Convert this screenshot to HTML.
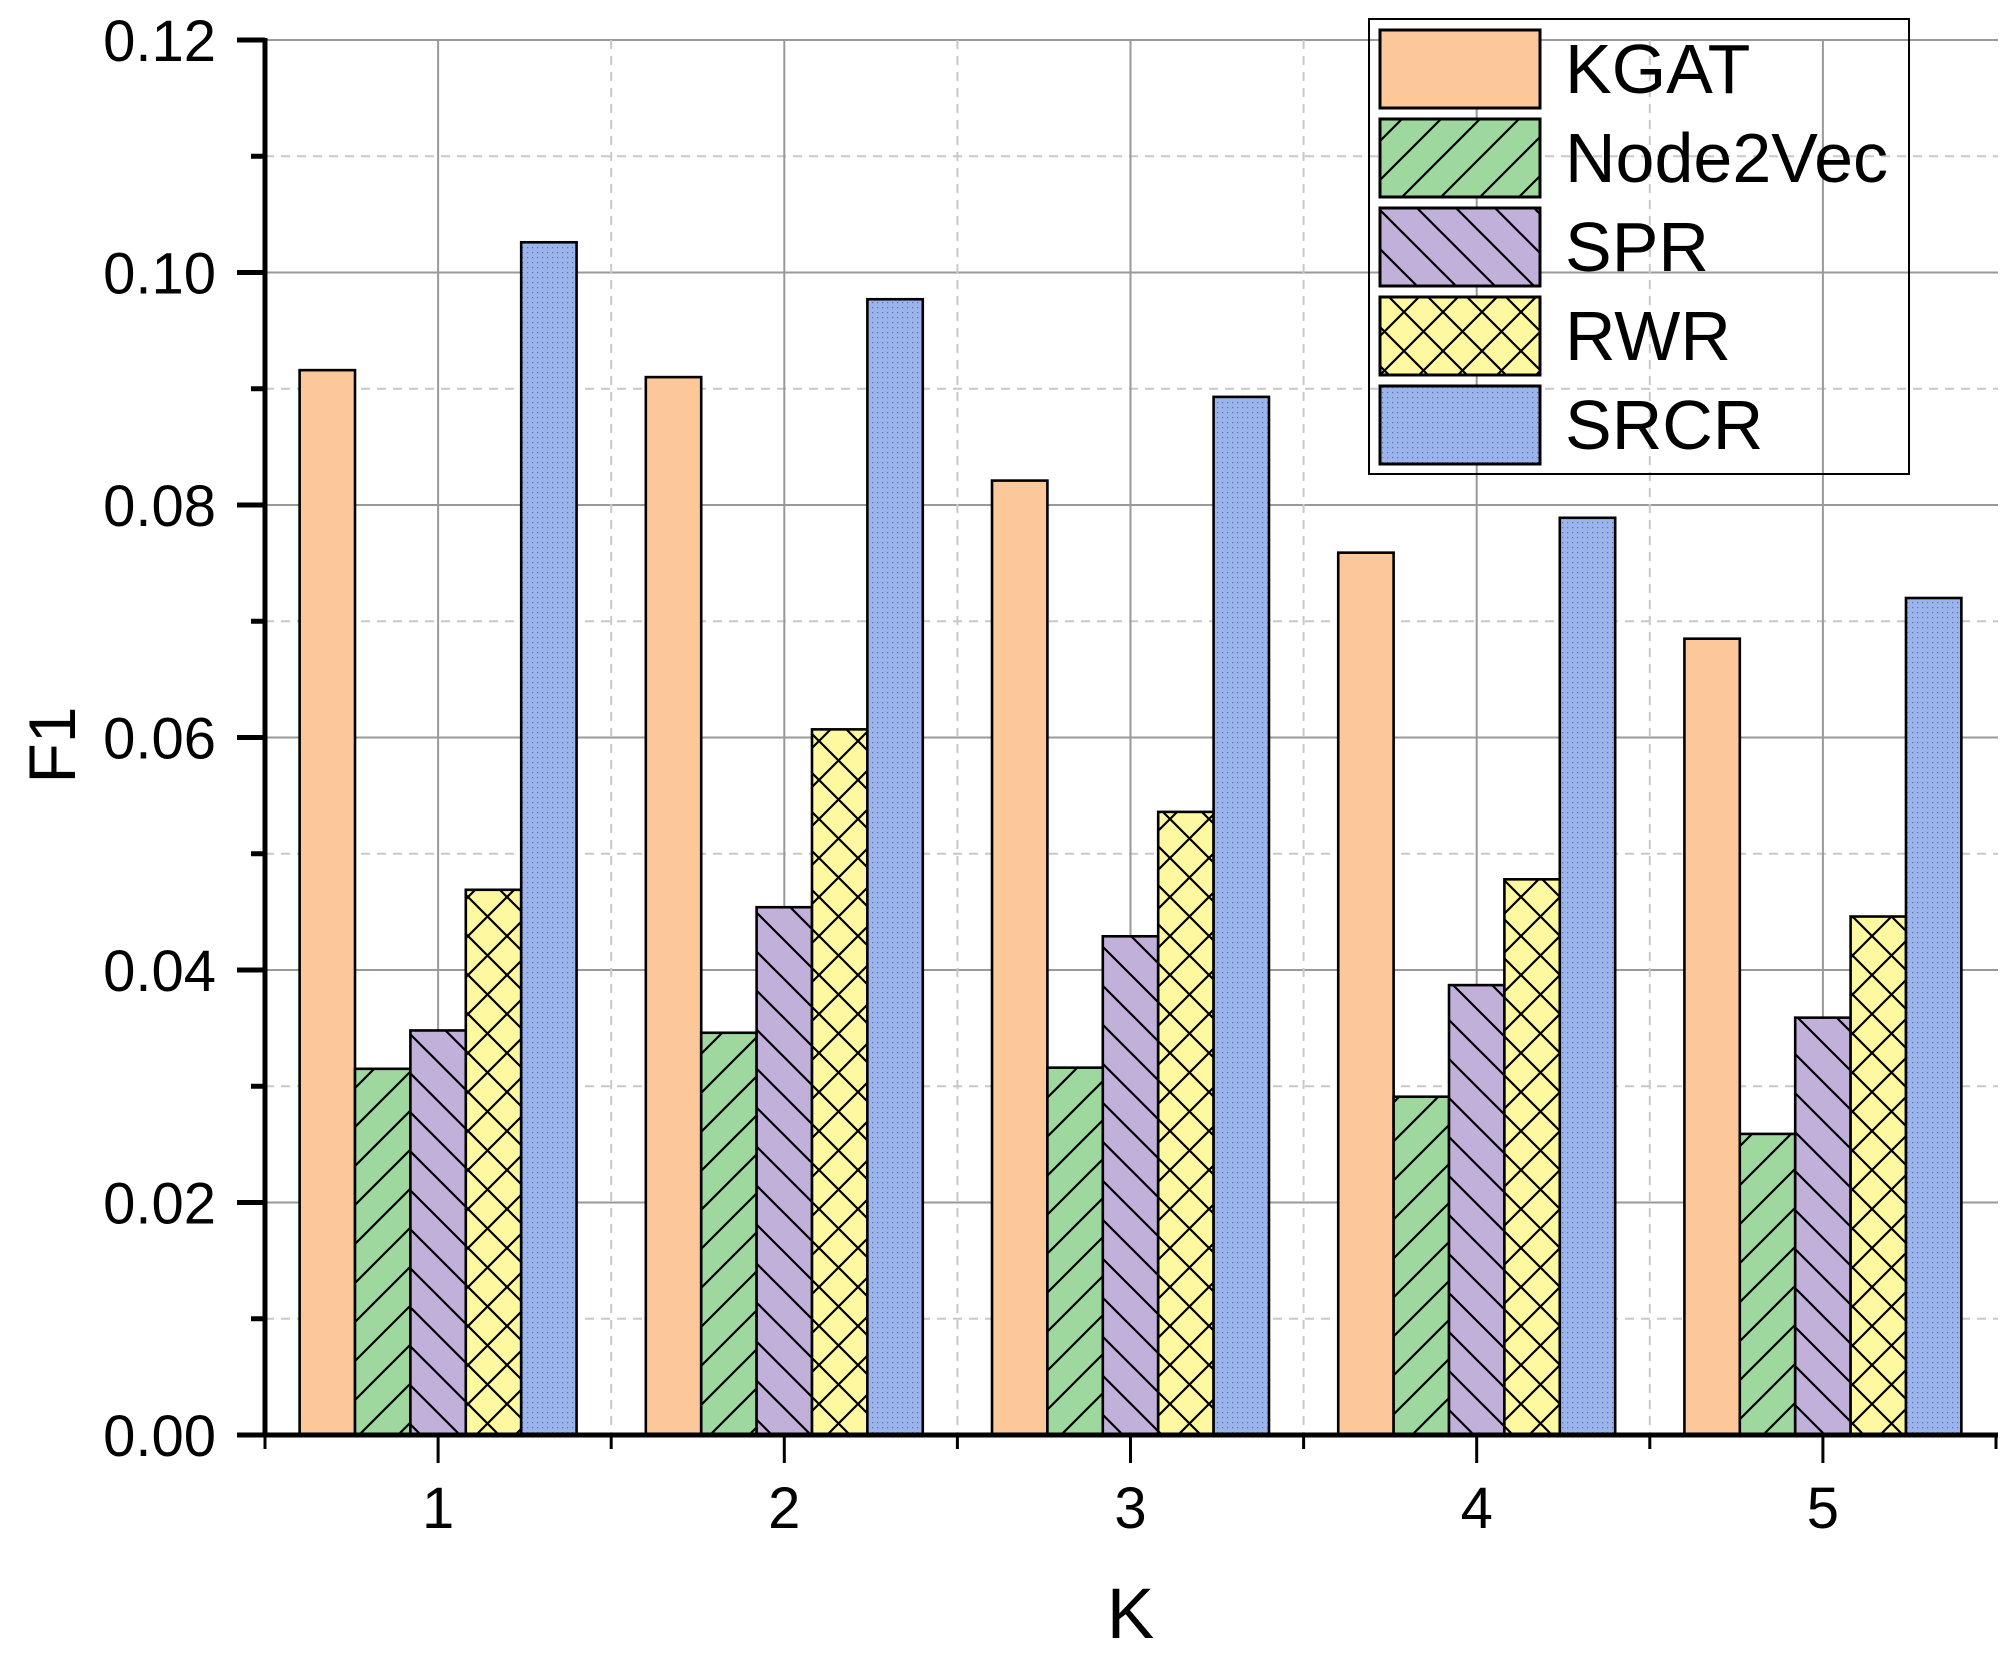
<!DOCTYPE html>
<html><head><meta charset="utf-8"><style>
html,body{margin:0;padding:0;background:#fff;}
svg{display:block;font-family:"Liberation Sans",Arial,sans-serif;}
</style></head><body>
<svg id="chart" width="2000" height="1660" viewBox="0 0 2000 1660" xmlns="http://www.w3.org/2000/svg">
<defs>
<pattern id="p-fwd" patternUnits="userSpaceOnUse" width="39" height="39"><rect width="39" height="39" fill="#9ED89F"/><path d="M-5,44 L44,-5 M-5,5 L5,-5 M34,44 L44,34" stroke="#000" stroke-width="2.2"/></pattern>
<pattern id="p-back" patternUnits="userSpaceOnUse" width="39" height="39"><rect width="39" height="39" fill="#C0B0DA"/><path d="M-5,-5 L44,44 M34,-5 L44,5 M-5,34 L5,44" stroke="#000" stroke-width="2.2"/></pattern>
<pattern id="p-cross" patternUnits="userSpaceOnUse" width="39" height="39"><rect width="39" height="39" fill="#FEF8A0"/><path d="M-5,-5 L44,44 M34,-5 L44,5 M-5,34 L5,44 M-5,44 L44,-5 M-5,5 L5,-5 M34,44 L44,34" stroke="#000" stroke-width="2.2"/></pattern>
<pattern id="p-dot" patternUnits="userSpaceOnUse" width="5" height="5"><rect width="5" height="5" fill="#9BB5EC"/><rect x="2" y="2" width="1.2" height="1.2" fill="#5a6fa8"/></pattern>
</defs>
<g id="grid"></g>
<g id="bars"></g>
<g id="axes"></g>
<g id="legend"></g>
</svg>
<script>
const categories = ["1","2","3","4","5"];
const seriesNames = ["KGAT","Node2Vec","SPR","RWR","SRCR"];
const kgat = [0.0916,0.0910,0.0821,0.0759,0.0685];
const node2vec = [0.0315,0.0346,0.0316,0.0291,0.0259];
const spr = [0.0348,0.0454,0.0429,0.0387,0.0359];
const rwr = [0.0469,0.0607,0.0536,0.0478,0.0446];
const srcr = [0.1026,0.0977,0.0893,0.0789,0.0720];
const yTicks = [0.00,0.02,0.04,0.06,0.08,0.10,0.12];
const yTickLabels = ["0.00","0.02","0.04","0.06","0.08","0.10","0.12"];

const NS="http://www.w3.org/2000/svg";
const fills=["#FCC89A","url(#p-fwd)","url(#p-back)","url(#p-cross)","url(#p-dot)"];
const series=[kgat,node2vec,spr,rwr,srcr];
const X0=265, CAT=346.2, Y0=1435, YTOP=40, YMAX=0.12;
function xs(v){return X0+(v-0.5)*CAT;}
function ys(v){return Y0-(v/YMAX)*(Y0-YTOP);}
function el(tag,attrs,parent){const e=document.createElementNS(NS,tag);for(const k in attrs)e.setAttribute(k,attrs[k]);parent.appendChild(e);return e;}
const grid=document.getElementById('grid'),bars=document.getElementById('bars'),axes=document.getElementById('axes'),leg=document.getElementById('legend');

// horizontal grid
for(let i=1;i<=12;i++){
  const v=i*0.01;const y=ys(v);
  const g=el('line',{x1:X0,x2:1998,y1:y,y2:y,stroke:i%2===0?'#999':'#c8c8c8','stroke-width':2,'stroke-dasharray':i%2===0?'none':'9,7'},grid);
  
  
}
// vertical grid
for(let i=0;i<categories.length;i++){
  const x=xs(i+1);
  const g=el('line',{x1:x,x2:x,y1:YTOP,y2:Y0,stroke:'#999','stroke-width':2},grid);
  
  
  if(i<categories.length-1){
    const xm=xs(i+1.5);
    const g2=el('line',{x1:xm,x2:xm,y1:YTOP,y2:Y0,stroke:'#c8c8c8','stroke-width':2,'stroke-dasharray':'9,7'},grid);
    
    
  }
}
// bars
const BW=0.16;
for(let s=0;s<series.length;s++){
  for(let i=0;i<categories.length;i++){
    const left=xs(i+1-0.4+s*BW), right=xs(i+1-0.4+(s+1)*BW);
    const y=ys(series[s][i]);
    const r=el('rect',{x:left,y:y,width:right-left,height:Y0-y,fill:fills[s],stroke:'#000','stroke-width':2.6},bars);
    
    
  }
}
// y axis
const ya=el('line',{x1:X0,x2:X0,y1:YTOP-2,y2:Y0+2,stroke:'#000','stroke-width':5},axes);


for(let i=0;i<=12;i++){
  const y=ys(i*0.01);const major=i%2===0;
  el('line',{x1:X0-(major?28:14),x2:X0,y1:y,y2:y,stroke:'#000','stroke-width':5},axes);
}
for(let i=0;i<yTicks.length;i++){
  const t=el('text',{x:216,y:ys(yTicks[i])+21,'font-size':58,'text-anchor':'end',fill:'#000'},axes);
  t.textContent=yTickLabels[i];
  
  
}
// x axis
const xa=el('line',{x1:X0-28,x2:1998,y1:Y0,y2:Y0,stroke:'#000','stroke-width':5},axes);


for(let i=0;i<=categories.length;i++){
  const x=xs(i+0.5);
  el('line',{x1:x,x2:x,y1:Y0,y2:Y0+14,stroke:'#000','stroke-width':3},axes);
}
for(let i=0;i<categories.length;i++){
  const x=xs(i+1);
  el('line',{x1:x,x2:x,y1:Y0,y2:Y0+28,stroke:'#000','stroke-width':3},axes);
  const t=el('text',{x:x,y:1528,'font-size':58,'text-anchor':'middle',fill:'#000'},axes);
  t.textContent=categories[i];
  
  
}
const xt=el('text',{x:xs(3),y:1638,'font-size':71,'text-anchor':'middle',fill:'#000'},axes);
xt.textContent='K';


const yt=el('text',{x:0,y:0,'font-size':66,'text-anchor':'middle',fill:'#000',transform:'translate(75,745) rotate(-90)'},axes);
yt.textContent='F1';


// legend
const lb=el('rect',{x:1369,y:19,width:540,height:455,fill:'none',stroke:'#000','stroke-width':2},leg);


for(let s=0;s<seriesNames.length;s++){
  const y=30+s*89;
  const sw=el('rect',{x:1380,y:y,width:160,height:78,fill:fills[s],stroke:'#000','stroke-width':3},leg);
  
  
  const t=el('text',{x:1565,y:y+63,'font-size':70,fill:'#000'},leg);
  t.textContent=seriesNames[s];
  
  
}
</script>
</body></html>
